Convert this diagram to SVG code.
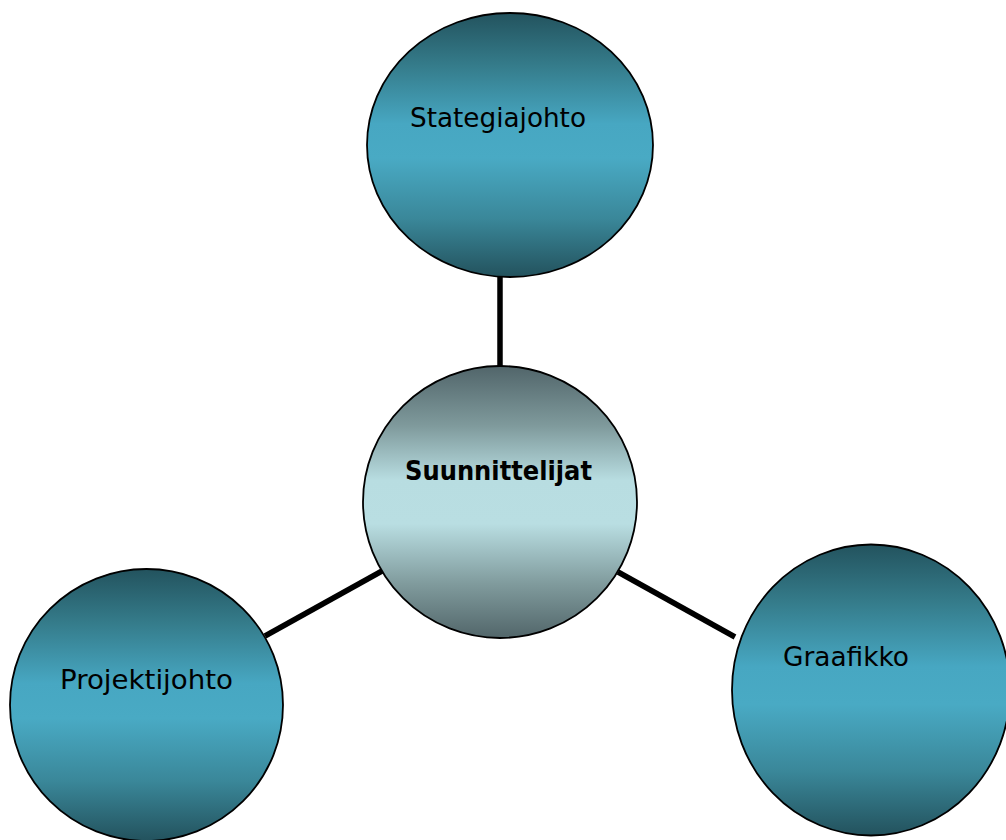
<svg xmlns="http://www.w3.org/2000/svg" width="1006" height="840" viewBox="0 0 1006 840">
<defs>
<linearGradient id="teal" x1="0" y1="0" x2="0" y2="1">
<stop offset="0" stop-color="#23535e"/>
<stop offset="0.2" stop-color="#357c8b"/>
<stop offset="0.42" stop-color="#47a7c2"/>
<stop offset="0.55" stop-color="#49aac4"/>
<stop offset="0.78" stop-color="#3a8799"/>
<stop offset="1" stop-color="#23525d"/>
</linearGradient>
<linearGradient id="gray" x1="0" y1="0" x2="0" y2="1">
<stop offset="0" stop-color="#51656a"/>
<stop offset="0.22" stop-color="#7f9a9c"/>
<stop offset="0.42" stop-color="#b8dde1"/>
<stop offset="0.58" stop-color="#b9dee2"/>
<stop offset="0.8" stop-color="#809b9d"/>
<stop offset="1" stop-color="#52666a"/>
</linearGradient>
</defs>
<style>
.c{stroke:#000;stroke-width:1.8}
.t{fill:url(#teal)}
.g{fill:url(#gray)}
.lbl{font-family:"DejaVu Sans",sans-serif;font-size:27px;fill:#000}
.b{font-weight:bold}
.conn{stroke:#000;stroke-width:5.5;fill:none}
</style>
<g id="connectors">
<line class="conn" x1="500" y1="277" x2="500" y2="368"/>
<line class="conn" x1="265" y1="636" x2="382" y2="571"/>
<line class="conn" x1="618" y1="572" x2="735" y2="637"/>
</g>
<g id="node-stategiajohto">
<ellipse class="c t" cx="510" cy="145" rx="143" ry="132"/>
<text class="lbl" x="410" y="127" textLength="176" lengthAdjust="spacingAndGlyphs">Stategiajohto</text>
</g>
<g id="node-suunnittelijat">
<ellipse class="c g" cx="500" cy="502" rx="137" ry="136"/>
<text class="lbl b" x="405" y="480" textLength="187" lengthAdjust="spacingAndGlyphs">Suunnittelijat</text>
</g>
<g id="node-projektijohto">
<ellipse class="c t" cx="146.5" cy="705" rx="136.5" ry="136"/>
<text class="lbl" x="60" y="689" textLength="173" lengthAdjust="spacingAndGlyphs">Projektijohto</text>
</g>
<g id="node-graafikko">
<ellipse class="c t" cx="871" cy="690" rx="139" ry="145.5"/>
<text class="lbl" x="783" y="666" textLength="126" lengthAdjust="spacingAndGlyphs">Graafikko</text>
</g>
</svg>
